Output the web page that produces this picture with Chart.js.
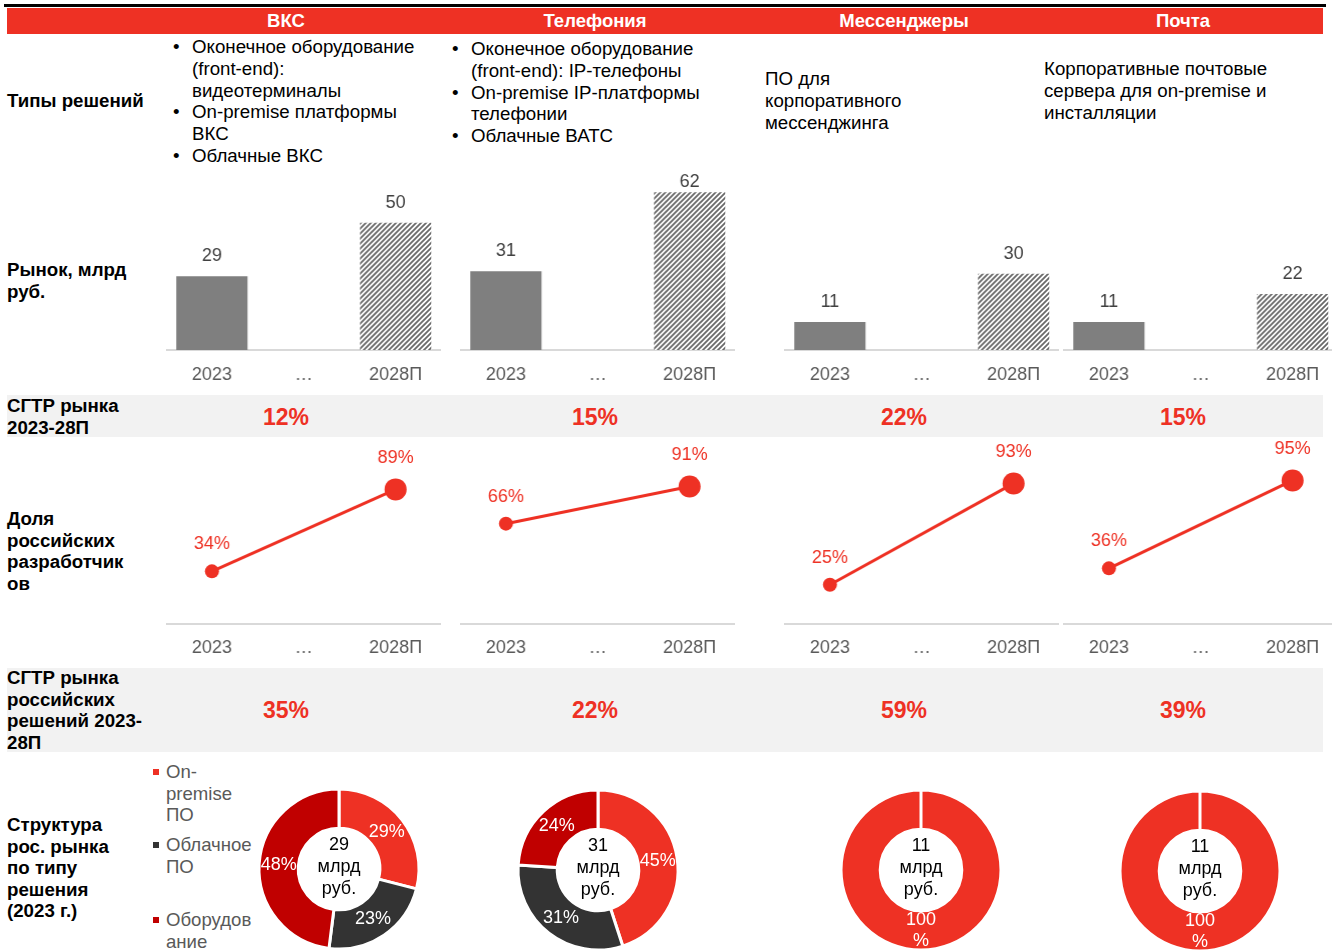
<!DOCTYPE html>
<html>
<head>
<meta charset="utf-8">
<script src="https://cdn.jsdelivr.net/npm/chart.js@4.4.1/dist/chart.umd.min.js"></script>
<style>
  body { margin: 0; width: 1332px; height: 950px; position: relative; overflow: hidden; background: #fff;
         font-family: "Liberation Sans", Arial, sans-serif; color: #000; }
  .abs { position: absolute; }
  .lbl { position: absolute; left: 7px; font-weight: bold; font-size: 18.7px; line-height: 21.5px; }
  .narrow { font-family: "Liberation Sans Narrow", "Arial Narrow", "Liberation Sans", sans-serif; }
  .txt { position: absolute; font-size: 18.7px; line-height: 21.8px; white-space: nowrap; }
  .bul { position: relative; padding-left: 18px; }
  .bul:before { content: "•"; position: absolute; left: -1px; top: 0; }
  .head { position: absolute; top: 8px; height: 26px; line-height: 26px; color: #fff; font-weight: bold; font-size: 18.5px;
          transform: translateX(-50%); white-space: nowrap; }
  .cagr { position: absolute; color: #ee3124; font-weight: bold; font-size: 23px; transform: translate(-50%, -50%); }
  .box { position: absolute; }
  .leg { position: absolute; left: 166px; font-size: 18.6px; line-height: 21.5px; color: #595959; }
  .sq { position: absolute; left: 153px; width: 6px; height: 6px; }
</style>
</head>
<body>

<div class="abs" style="left:4px;top:4px;width:1322px;height:3px;background:#000"></div>
<div class="abs" style="left:7px;top:8px;width:1316px;height:26px;background:#ee3124"></div>
<div class="abs" style="left:7px;top:395px;width:1316px;height:42px;background:#f2f2f2"></div>
<div class="abs" style="left:7px;top:668px;width:1316px;height:84px;background:#f2f2f2"></div>
<div id="heads"></div>

<div class="lbl" style="top:90px">Типы решений</div>
<div class="lbl" style="top:259px">Рынок, млрд<br>руб.</div>
<div class="lbl narrow" style="top:395px">СГТР рынка<br>2023-28П</div>
<div class="lbl" style="top:508px">Доля<br>российских<br>разработчик<br>ов</div>
<div class="lbl narrow" style="top:667px">СГТР рынка<br>российских<br>решений 2023-<br>28П</div>
<div class="lbl" style="top:814px">Структура<br>рос. рынка<br>по типу<br>решения<br>(2023 г.)</div>

<div class="txt" style="left:174px;top:36px">
  <div class="bul">Оконечное оборудование<br>(front-end):<br>видеотерминалы</div>
  <div class="bul">On-premise платформы<br>ВКС</div>
  <div class="bul">Облачные ВКС</div>
</div>
<div class="txt" style="left:453px;top:38px">
  <div class="bul">Оконечное оборудование<br>(front-end): IP-телефоны</div>
  <div class="bul">On-premise IP-платформы<br>телефонии</div>
  <div class="bul">Облачные ВАТС</div>
</div>
<div class="txt" style="left:765px;top:68px">ПО для<br>корпоративного<br>мессенджинга</div>
<div class="txt" style="left:1044px;top:58px">Корпоративные почтовые<br>сервера для on-premise и<br>инсталляции</div>

<div id="legend"></div>
<div id="charts"></div>

<script>
  // data
  const categories = ['ВКС', 'Телефония', 'Мессенджеры', 'Почта'];
  const years = ['2023', '…', '2028П'];
  const market2023 = [29, 31, 11, 11];
  const market2028 = [50, 62, 30, 22];
  const marketCagr = ['12%', '15%', '22%', '15%'];
  const rusShare2023 = [34, 66, 25, 36];
  const rusShare2028 = [89, 91, 93, 95];
  const rusCagr = ['35%', '22%', '59%', '39%'];
  const structLabels = ['On-premise ПО', 'Облачное ПО', 'Оборудование'];
  const structWrapped = [['On-', 'premise', 'ПО'], ['Облачное', 'ПО'], ['Оборудов', 'ание']];
  const onPremiseShare = [29, 45, 100, 100];
  const cloudShare = [23, 31, 0, 0];
  const hardwareShare = [48, 24, 0, 0];

  // layout
  const colMid = [286, 595, 904, 1183];
  const firstX = [212, 506, 830, 1109];
  const step = 91.5;
  const donutC = [[339, 869], [598, 870], [921, 870], [1200, 871]];
  const RED = '#ee3124', DARK = '#333333', DRED = '#c00000';
  const structColors = [RED, DARK, DRED];

  Chart.defaults.font.family = '"Liberation Sans", Arial, sans-serif';
  Chart.defaults.animation = false;

  const heads = document.getElementById('heads');
  categories.forEach((c, i) => {
    heads.insertAdjacentHTML('beforeend',
      `<div class="head narrow" style="left:${colMid[i]}px">${c}</div>` +
      `<div class="cagr narrow" style="left:${colMid[i]}px;top:417px">${marketCagr[i]}</div>` +
      `<div class="cagr narrow" style="left:${colMid[i]}px;top:710px">${rusCagr[i]}</div>`);
  });

  const legend = document.getElementById('legend');
  const legTops = [761, 834, 909];
  structLabels.forEach((l, k) => {
    legend.insertAdjacentHTML('beforeend',
      `<div class="sq" style="top:${legTops[k] + 8}px;background:${structColors[k]}"></div>` +
      `<div class="leg" style="top:${legTops[k]}px" title="${l}">${structWrapped[k].join('<br>')}</div>`);
  });

  const hatch = () => {
    const c = document.createElement('canvas');
    c.width = 5; c.height = 5;
    const g = c.getContext('2d');
    g.fillStyle = '#ffffff'; g.fillRect(0, 0, 5, 5);
    g.strokeStyle = '#6a6a6a'; g.lineWidth = 1.8;
    g.beginPath();
    g.moveTo(-1, 6); g.lineTo(6, -1);
    g.moveTo(-3.5, 3.5); g.lineTo(3.5, -3.5);
    g.moveTo(1.5, 8.5); g.lineTo(8.5, 1.5);
    g.stroke();
    return g.createPattern(c, 'repeat');
  };

  // draws value labels for bars, line points and doughnut slices
  const marks = {
    id: 'marks',
    afterDatasetsDraw(chart, args, opts) {
      if (!opts.mode) return;
      const ctx = chart.ctx;
      const ds = chart.data.datasets[0];
      const meta = chart.getDatasetMeta(0);
      ctx.save();
      ctx.textAlign = 'center';
      ctx.textBaseline = 'middle';
      ctx.font = '18px "Liberation Sans", Arial, sans-serif';
      meta.data.forEach((el, i) => {
        const v = ds.data[i];
        if (v == null) return;
        if (opts.mode === 'bar') {
          ctx.fillStyle = '#404040';
          ctx.fillText(String(v), el.x, Math.max(el.y - 20, chart.chartArea.top + 10));
        } else if (opts.mode === 'line') {
          ctx.fillStyle = RED;
          ctx.fillText(v + '%', el.x, el.y - ds.pointRadius[i] - 20);
        } else {
          const a = (el.startAngle + el.endAngle) / 2;
          const r = (el.innerRadius + el.outerRadius) / 2;
          const x = el.x + r * Math.cos(a), y = el.y + r * Math.sin(a);
          const lines = v >= 100 ? [String(v), '%'] : [v + '%'];
          ctx.fillStyle = '#ffffff';
          lines.forEach((t, j) => ctx.fillText(t, x, y + (j - (lines.length - 1) / 2) * 21));
        }
      });
      if (opts.center) {
        const el = meta.data[0];
        ctx.fillStyle = '#000';
        opts.center.forEach((t, j) => ctx.fillText(t, el.x, el.y - 2 + (j - 1) * 22));
      }
      ctx.restore();
    }
  };
  Chart.register(marks);

  const holder = document.getElementById('charts');
  const makeBox = (left, top, w, h) => {
    const d = document.createElement('div');
    d.className = 'box';
    d.style.cssText = `left:${left}px;top:${top}px;width:${w}px;height:${h}px`;
    const c = document.createElement('canvas');
    d.appendChild(c);
    holder.appendChild(d);
    return c;
  };

  const xAxis = {
    offset: true,
    grid: { display: false, drawTicks: false, offset: true },
    border: { display: true, color: '#d9d9d9', width: 2 },
    ticks: { color: '#595959', font: { size: 18 }, padding: 14, maxRotation: 0, autoSkip: false },
    afterFit: s => { s.height = 40; }
  };

  categories.forEach((cat, i) => {
    const left = firstX[i] - step / 2;
    const w = step * 3;

    // market bars
    const barCanvas = makeBox(left, 142, w, 248);
    new Chart(barCanvas, {
      type: 'bar',
      data: {
        labels: years,
        datasets: [{
          label: cat,
          data: [market2023[i], null, market2028[i]],
          backgroundColor: ['#7f7f7f', '#7f7f7f', hatch()],
          barPercentage: 0.776,
          categoryPercentage: 1
        }]
      },
      options: {
        responsive: true, maintainAspectRatio: false, events: [],
        layout: { padding: { top: 30, left: 0, right: 0, bottom: 0 } },
        plugins: { legend: { display: false }, tooltip: { enabled: false }, marks: { mode: 'bar' } },
        scales: { x: xAxis, y: { display: false, min: 0, max: 70 } }
      }
    });

    // share of russian vendors
    const lineCanvas = makeBox(left, 432.5, w, 230.5);
    new Chart(lineCanvas, {
      type: 'line',
      data: {
        labels: years,
        datasets: [{
          label: cat,
          data: [rusShare2023[i], null, rusShare2028[i]],
          spanGaps: true,
          borderColor: RED,
          borderWidth: 3,
          pointRadius: [7, 0, 11],
          pointBackgroundColor: RED,
          pointBorderWidth: 0,
          clip: false
        }]
      },
      options: {
        responsive: true, maintainAspectRatio: false, events: [],
        layout: { autoPadding: false, padding: { top: 40, left: 0, right: 0, bottom: 0 } },
        plugins: { legend: { display: false }, tooltip: { enabled: false }, marks: { mode: 'line' } },
        scales: { x: xAxis, y: { display: false, min: -1, max: 100 } }
      }
    });

    // structure doughnut
    const parts = [onPremiseShare[i], cloudShare[i], hardwareShare[i]];
    const keep = [0, 1, 2].filter(k => parts[k] > 0);
    const donutCanvas = makeBox(donutC[i][0] - 100, donutC[i][1] - 100, 200, 200);
    new Chart(donutCanvas, {
      type: 'doughnut',
      data: {
        labels: keep.map(k => structLabels[k]),
        datasets: [{
          data: keep.map(k => parts[k]),
          backgroundColor: keep.map(k => structColors[k]),
          borderColor: '#ffffff',
          borderWidth: 3
        }]
      },
      options: {
        responsive: true, maintainAspectRatio: false, events: [],
        cutout: '51%',
        layout: { padding: 18.5 },
        plugins: {
          legend: { display: false }, tooltip: { enabled: false },
          marks: { mode: 'donut', center: [String(market2023[i]), 'млрд', 'руб.'] }
        }
      }
    });
  });
</script>
</body>
</html>
